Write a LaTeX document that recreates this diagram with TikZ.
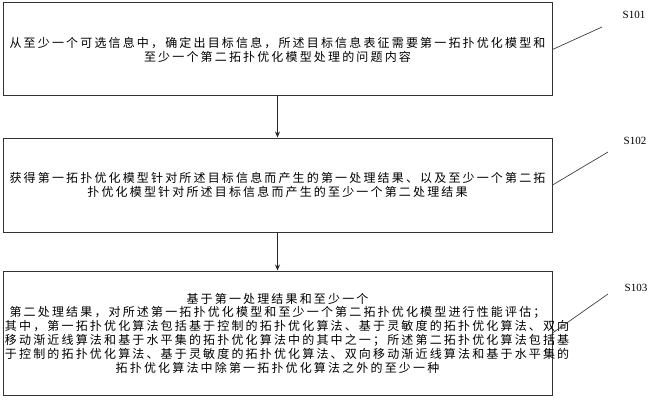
\documentclass[tikz,border=0pt]{standalone}
\usepackage{fontspec}
\newfontfamily\cjk[LetterSpace=18]{Noto Sans CJK SC}
\setmainfont{Liberation Serif}
\usetikzlibrary{arrows.meta}

\begin{document}
\begin{tikzpicture}[x=1pt,y=-1pt,
    stepbox/.style={draw=black!80,line width=1pt,minimum width=549pt,text width=545pt,align=center,inner sep=0pt,font=\cjk\fontsize{12}{13.8}\selectfont},
    lbl/.style={font=\fontsize{11}{12}\selectfont,inner sep=1pt},
    lead/.style={draw=black!75,line width=0.7pt},
    flow/.style={draw=black!85,line width=0.8pt,-{Stealth[length=6pt,width=5pt]}}]
    \useasboundingbox (0,0) rectangle (650,401);

    \node[stepbox,minimum height=93pt] (s1) at (277.5,49.5) {从至少一个可选信息中，确定出目标信息，所述目标信息表征需要第一拓扑优化模型和\\至少一个第二拓扑优化模型处理的问题内容};
    \node[stepbox,minimum height=94pt] (s2) at (277.5,185) {获得第一拓扑优化模型针对所述目标信息而产生的第一处理结果、以及至少一个第二拓\\扑优化模型针对所述目标信息而产生的至少一个第二处理结果};
    \node[stepbox,minimum height=124pt] (s3) at (277.5,333) {基于第一处理结果和至少一个\\第二处理结果，对所述第一拓扑优化模型和至少一个第二拓扑优化模型进行性能评估；\\其中，第一拓扑优化算法包括基于控制的拓扑优化算法、基于灵敏度的拓扑优化算法、双向\\移动渐近线算法和基于水平集的拓扑优化算法中的其中之一；所述第二拓扑优化算法包括基\\于控制的拓扑优化算法、基于灵敏度的拓扑优化算法、双向移动渐近线算法和基于水平集的\\拓扑优化算法中除第一拓扑优化算法之外的至少一种};

    \node[lbl] (l1) at (634,15) {S101};
    \node[lbl] (l2) at (635,141) {S102};
    \node[lbl] (l3) at (636,288) {S103};
    \coordinate (e1) at (602,27);
    \coordinate (e2) at (608,152);
    \coordinate (e3) at (608,294);

    \draw[flow] (s1) -- (s2);
    \draw[flow] (s2) -- (s3);

    \draw[lead] (s1.east) -- (e1);
    \draw[lead] (s2.east) -- (e2);
    \draw[lead] (s3.east) -- (e3);
\end{tikzpicture}
\end{document}
